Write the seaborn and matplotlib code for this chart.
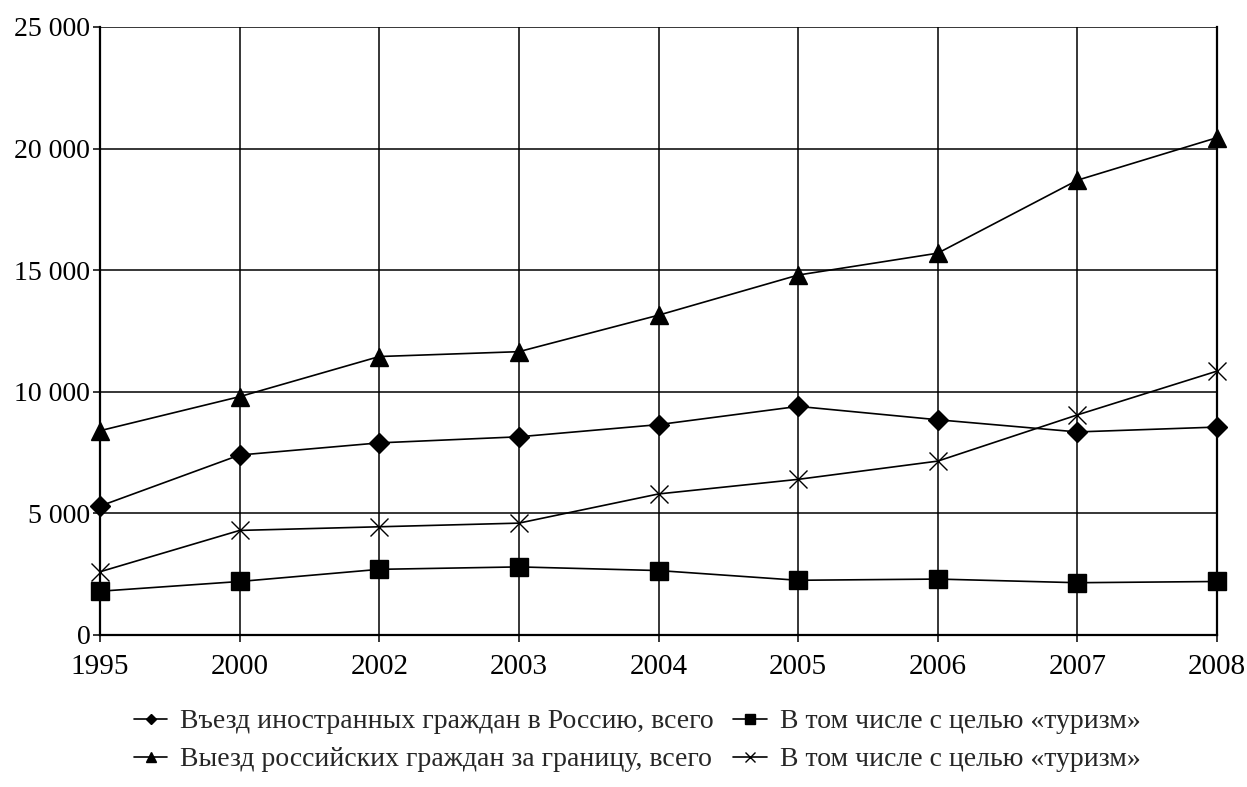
import pandas as pd
import matplotlib
matplotlib.use("Agg")
import matplotlib.pyplot as plt
import seaborn as sns
from matplotlib.ticker import FuncFormatter, MultipleLocator

years = ["1995", "2000", "2002", "2003", "2004", "2005", "2006", "2007", "2008"]

entry_total = [5300, 7400, 7900, 8150, 8650, 9400, 8850, 8350, 8550]
entry_tourism = [1800, 2200, 2700, 2800, 2650, 2250, 2300, 2150, 2200]
exit_total = [8400, 9800, 11450, 11650, 13150, 14800, 15700, 18700, 20450]
exit_tourism = [2600, 4300, 4450, 4600, 5800, 6400, 7150, 9050, 10850]

labels = [
    "Въезд иностранных граждан в Россию, всего",
    "В том числе с целью «туризм»",
    "Выезд российских граждан за границу, всего",
    "В том числе с целью «туризм»",
]

sns.set_style("white")
plt.rcParams["font.family"] = ["Liberation Serif", "DejaVu Serif"]

fig = plt.figure(figsize=(12.47, 7.87), dpi=100)
ax = fig.add_axes([100 / 1247, 1 - 635 / 787, 1117 / 1247, 608 / 787])

series = [
    (entry_total, "D", 9.7),
    (entry_tourism, "s", 13.5),
    (exit_total, "^", 13.5),
    (exit_tourism, "x", 13.5),
]

handles = []
for (vals, mk, ms), lab in zip(series, labels):
    df = pd.DataFrame({"year": years, "value": vals})
    sns.lineplot(data=df, x="year", y="value", ax=ax, color="black",
                 linewidth=1.2, marker=mk, markersize=ms,
                 markeredgecolor="black", markerfacecolor="black",
                 markeredgewidth=1.0, label=lab, legend=False, zorder=3,
                 clip_on=False)
    handles.append(ax.lines[-1])

ax.set_xlim(0, len(years) - 1)
ax.set_ylim(0, 25000)
ax.yaxis.set_major_locator(MultipleLocator(5000))
ax.yaxis.set_major_formatter(FuncFormatter(lambda v, p: f"{int(v):,}".replace(",", " ")))
ax.grid(True, color="black", linewidth=1.1)
ax.set_axisbelow(True)
ax.set_xlabel("")
ax.set_ylabel("")

for side in ["left", "right", "bottom"]:
    ax.spines[side].set_color("black")
    ax.spines[side].set_linewidth(1.6)
ax.spines["top"].set_visible(False)

ax.tick_params(axis="both", direction="out", length=5, width=1.1, color="black",
               labelcolor="black", left=True, bottom=True)
ax.tick_params(axis="y", labelsize=20, pad=2)
ax.tick_params(axis="x", labelsize=21, pad=9)

# legend: row 1 -> entry series, row 2 -> exit series
order = [0, 2, 1, 3]
fig.legend([handles[i] for i in order], [labels[i] for i in order],
           ncol=2, loc="lower center", bbox_to_anchor=(0.511, -0.013),
           frameon=False, fontsize=20, markerscale=0.55, handlelength=1.2,
           handletextpad=0.47, columnspacing=0.7, labelspacing=0.45)

fig.savefig("out.png", dpi=100)
